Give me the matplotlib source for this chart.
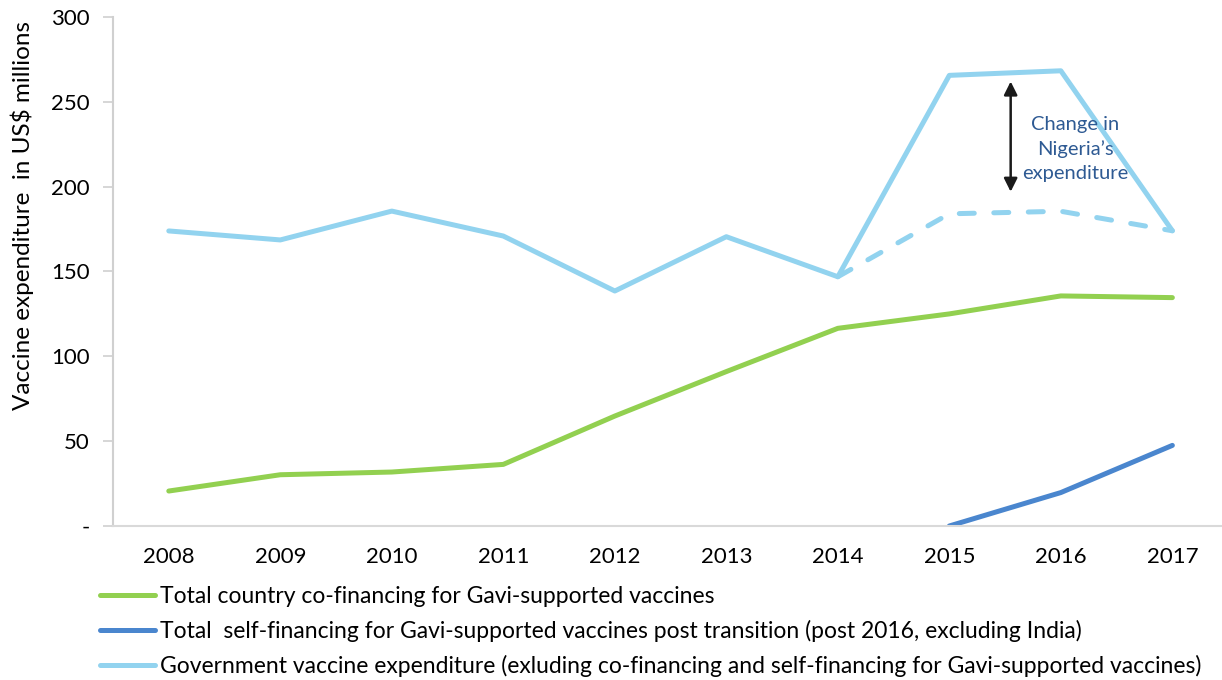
import numpy as np
import matplotlib.pyplot as plt

plt.rcParams['font.family'] = ['Lato', 'DejaVu Sans']

# data
years = ['2008', '2009', '2010', '2011', '2012', '2013', '2014', '2015', '2016', '2017']
cofinancing = [20.6, 30.2, 31.8, 36.3, 64.8, 91.0, 116.5, 125.0, 135.6, 134.6]
selffinancing = [np.nan, np.nan, np.nan, np.nan, np.nan, np.nan, np.nan, 0.0, 19.7, 47.5]
gov_expenditure = [173.9, 168.6, 185.6, 170.9, 138.5, 170.5, 146.9, 265.6, 268.3, 174.0]
# government expenditure without the Nigeria change (dashed), 2014-2017
years_excl = ['2014', '2015', '2016', '2017']
gov_excl_nigeria = [146.9, 184.0, 185.5, 174.0]

labels = ['Total country co-financing for Gavi-supported vaccines',
          'Total  self-financing for Gavi-supported vaccines post transition (post 2016, excluding India)',
          'Government vaccine expenditure (exluding co-financing and self-financing for Gavi-supported vaccines)']

green = '#92D050'
blue = '#4A86CE'
light = '#92D3EF'

fig = plt.figure(figsize=(12.22, 6.8), dpi=100)
ax = fig.add_axes([0.0925, 0.2265, 1.005 - 0.0925, 0.975 - 0.2265])

x = np.arange(len(years))
x_excl = np.array([years.index(y) for y in years_excl])

lw = 3.6
l1, = ax.plot(x, cofinancing, color=green, lw=lw, solid_capstyle='round', solid_joinstyle='round')
l2, = ax.plot(x, selffinancing, color=blue, lw=lw, solid_capstyle='round', solid_joinstyle='round')
ax.plot(x_excl, gov_excl_nigeria, color=light, lw=lw, dashes=(3, 3.9),
        dash_capstyle='round', dash_joinstyle='round')
l3, = ax.plot(x, gov_expenditure, color=light, lw=lw, solid_capstyle='round', solid_joinstyle='round')

# annotation for Nigeria
ax.annotate('', xy=(7.55, 262), xytext=(7.55, 197),
            arrowprops=dict(arrowstyle='<|-|>', color='#1a1a1a', lw=1.8, mutation_scale=20,
                            shrinkA=0, shrinkB=0))
ax.text(8.13, 222, "Change in\nNigeria\u2019s\nexpenditure", ha='center', va='center',
        fontsize=14.5, color='#2E5A93', linespacing=1.5)

ax.set_xlim(-0.5, 9.5)
ax.set_ylim(0, 300)
ax.set_xticks(x)
ax.set_xticklabels(years)
ax.set_yticks([0, 50, 100, 150, 200, 250, 300])
ax.set_yticklabels(['-', '50', '100', '150', '200', '250', '300'])
ax.tick_params(axis='x', length=0, pad=15, labelsize=16)
ax.tick_params(axis='y', length=7, width=1.2, color='#d0d0d0', pad=10, labelsize=16)

for s in ['top', 'right']:
    ax.spines[s].set_visible(False)
ax.spines['left'].set_color('#d0d0d0')
ax.spines['bottom'].set_color('#d9d9d9')
ax.spines['left'].set_linewidth(1.5)
ax.spines['bottom'].set_linewidth(1.5)

ax.set_ylabel('Vaccine expenditure  in US$ millions', fontsize=17.5)
ax.yaxis.set_label_coords(-0.071, 0.61)

fig.legend([l1, l2, l3], labels, loc='upper left', bbox_to_anchor=(100 / 1222, 1 - 586 / 680),
           frameon=False, fontsize=16.5, handlelength=2.4, handletextpad=0.22,
           labelspacing=0.56, borderpad=0, borderaxespad=0)

fig.savefig('out.png', dpi=100)
